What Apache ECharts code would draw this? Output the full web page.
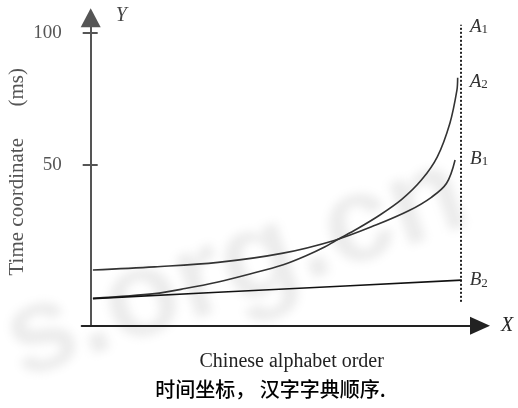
<!DOCTYPE html>
<html>
<head>
<meta charset="utf-8">
<script src="https://cdn.jsdelivr.net/npm/echarts@6/dist/echarts.min.js"></script>
<style>
  html, body { margin: 0; padding: 0; background: #fff; }
  #wrap { position: relative; width: 518px; height: 408px; overflow: hidden; }
  #wm {
    position: absolute; left: 0; top: 372px;
    font: bold 123px Arial, "Liberation Sans", sans-serif;
    color: rgba(0,0,0,0.075);
    white-space: nowrap;
    transform-origin: 0 0;
    transform: translate(-16px, -100px) rotate(-19deg);
    filter: blur(5px);
  }
  #chart { position: absolute; left: 0; top: 0; width: 518px; height: 408px; }
</style>
</head>
<body>
<div id="wrap">
  <div id="wm">s.org.cn</div>
  <div id="chart"></div>
</div>
<script>
// Timing curves against Chinese alphabet order (x: 0..100, y: ms)
const curveA2 = [[0.6, -0.4], [17.3, 1.4], [25.5, 3.3], [34.4, 5.8], [43.0, 8.8], [52.0, 12.3], [58.0, 15.6],
                 [63.3, 19.1], [66.0, 21.3], [72.0, 25.9], [78.0, 31.0], [84.0, 37.0], [89.3, 44.3],
                 [93.6, 53.1], [97.0, 65.8], [98.9, 78.3], [99.1, 83.0]];
const curveB1 = [[0.6, 10.3], [17.3, 11.5], [34.4, 13.2], [51.6, 16.6], [66.0, 21.6], [77.0, 27.3],
                 [86.0, 32.8], [92.0, 37.8], [96.1, 43.1], [98.4, 51.9]];
const curveB2 = [[0.6, -0.5], [34.4, 1.9], [68.7, 4.3], [100.2, 6.5]];
// Vertical bound A1 at the end of the alphabet
const boundA1 = [[100, -1.7], [100, 103]];
const yTicks = [50, 100];

const serif = '"Liberation Serif", "Times New Roman", serif';
const lineColor = '#333';

function subLabel(letter, idx) {
  return {
    show: true,
    formatter: '{a|' + letter + '}{b|' + idx + '}',
    rich: {
      a: { fontFamily: serif, fontStyle: 'italic', fontSize: 19, color: '#333' },
      b: { fontFamily: serif, fontSize: 13, color: '#333', verticalAlign: 'bottom' }
    }
  };
}

const chart = echarts.init(document.getElementById('chart'), null, { renderer: 'canvas' });

const xRange = { min: -2.43, max: 105.13 };
const yRange = { min: -10.73, max: 105.64 };

chart.setOption({
  backgroundColor: 'transparent',
  animation: false,
  grid: { left: 81.7, right: 38, top: 17.8, bottom: 82.3, containLabel: false, outerBoundsMode: 'none' },
  xAxis: [
    {
      type: 'value', min: xRange.min, max: xRange.max,
      axisLine: {
        onZero: false, symbol: ['none', 'triangle'], symbolSize: [18, 20],
        lineStyle: { color: '#222', width: 2 }
      },
      axisTick: { show: false }, axisLabel: { show: false }, splitLine: { show: false },
      name: 'X', nameLocation: 'end', nameGap: 21,
      nameTextStyle: { fontFamily: serif, fontStyle: 'italic', fontSize: 20, color: '#222',
                       align: 'left', verticalAlign: 'middle' }
    },
    {
      type: 'value', min: xRange.min, max: xRange.max, show: false,
      axisLine: { onZero: false }
    }
  ],
  yAxis: [
    {
      type: 'value', min: yRange.min, max: yRange.max, position: 'left',
      axisLine: {
        onZero: true, onZeroAxisIndex: 0, symbol: ['none', 'triangle'], symbolSize: [20, 19],
        lineStyle: { color: '#555', width: 2 }
      },
      axisTick: { show: true, customValues: yTicks, length: 8, lineStyle: { color: '#555', width: 2 } },
      axisLabel: { customValues: yTicks, margin: 20, fontFamily: serif, fontSize: 19, color: '#555' },
      splitLine: { show: false },
      name: 'Time coordinate      (ms)', nameLocation: 'middle', nameRotate: 90, nameGap: 54,
      nameMoveOverlap: false,
      nameTextStyle: { fontFamily: serif, fontSize: 21, color: '#555' }
    },
    {
      type: 'value', min: yRange.min, max: yRange.max, position: 'left',
      axisLine: { show: false, onZero: true, onZeroAxisIndex: 1 },
      axisTick: { show: true, inside: true, customValues: yTicks, length: 7, lineStyle: { color: '#555', width: 2 } },
      axisLabel: { show: false },
      splitLine: { show: false },
      name: 'Y', nameLocation: 'end', nameGap: 2,
      nameTextStyle: { fontFamily: serif, fontStyle: 'italic', fontSize: 20, color: '#444',
                       align: 'left', verticalAlign: 'middle', padding: [0, 0, 0, 25] }
    }
  ],
  graphic: [
    {
      type: 'text', x: 291.7, y: 362,
      style: { text: 'Chinese alphabet order', font: '20px ' + serif, fill: '#222',
               textAlign: 'center', textVerticalAlign: 'middle' }
    },
    {
      type: 'text', x: 270.5, y: 389,
      style: { text: '时间坐标， 汉字字典顺序.', font: '500 20px "Noto Sans CJK SC", sans-serif', fill: '#000',
               textAlign: 'center', textVerticalAlign: 'middle' }
    }
  ],
  series: [
    {
      type: 'line', name: 'A1', data: boundA1, showSymbol: false, silent: true,
      lineStyle: { color: '#222', width: 2, type: [2, 2] },
      endLabel: Object.assign(subLabel('A', 1), { distance: 9, offset: [0, 2] })
    },
    {
      type: 'line', name: 'A2', data: curveA2, smooth: 0.3,
      showSymbol: false, silent: true, lineStyle: { color: lineColor, width: 1.6 },
      endLabel: Object.assign(subLabel('A', 2), { distance: 12, offset: [0, 4] })
    },
    {
      type: 'line', name: 'B1', data: curveB1, smooth: 0.35,
      showSymbol: false, silent: true, lineStyle: { color: lineColor, width: 1.6 },
      endLabel: Object.assign(subLabel('B', 1), { distance: 15, offset: [0, -1] })
    },
    {
      type: 'line', name: 'B2', data: curveB2, smooth: false,
      showSymbol: false, silent: true, lineStyle: { color: '#111', width: 1.6 },
      endLabel: Object.assign(subLabel('B', 2), { distance: 8, offset: [0, 0] })
    }
  ]
});
</script>
</body>
</html>
